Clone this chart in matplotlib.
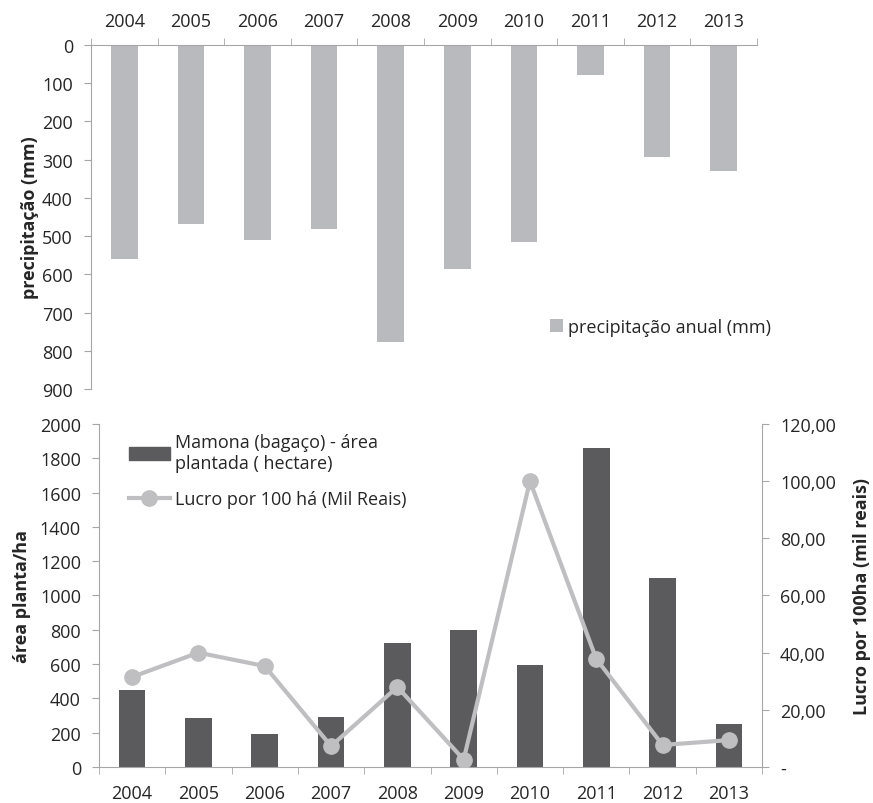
import matplotlib
matplotlib.use("Agg")
import matplotlib.pyplot as plt
from matplotlib.ticker import FuncFormatter, FixedLocator
from matplotlib.patches import Patch
from matplotlib.lines import Line2D
import numpy as np

years = ["2004", "2005", "2006", "2007", "2008", "2009", "2010", "2011", "2012", "2013"]
precip = [560, 469, 510, 482, 778, 586, 516, 79, 293, 330]
area = [450, 285, 192, 290, 725, 800, 595, 1860, 1100, 250]
lucro = [31.5, 40.0, 35.3, 7.3, 28.0, 2.6, 100.0, 37.8, 7.7, 9.4]

plt.rcParams['font.family'] = ['Open Sans', 'DejaVu Sans']
TXT = '#262626'
SPINE = '#a6a6a6'
LIGHT = '#b9babd'
DARK = '#5b5b5d'
LINEC = '#bfbfc1'
FS = 13

fig = plt.figure(figsize=(8.73, 8.04), dpi=100)

x = np.arange(len(years))

# Top axes
ax1 = fig.add_axes([0.1042, 0.5149, 0.7629, 0.4279])
ax1.bar(x, precip, width=0.4, color=LIGHT, label='precipitação anual (mm)')
ax1.set_ylim(900, 0)
ax1.set_xlim(-0.5, 9.5)
ax1.set_yticks(range(0, 901, 100))
ax1.xaxis.tick_top()
ax1.set_xticks(x)
ax1.set_xticklabels(years)
ax1.xaxis.set_minor_locator(FixedLocator(np.arange(-0.5, 10, 1)))
ax1.tick_params(axis='x', which='major', length=0, pad=11, labelsize=FS, colors=TXT)
ax1.tick_params(axis='x', which='minor', length=5, color=SPINE, direction='out', top=True, bottom=False)
ax1.tick_params(axis='y', length=5, color=SPINE, labelsize=FS, labelcolor=TXT, pad=8)
for s in ['right', 'bottom']:
    ax1.spines[s].set_visible(False)
for s in ['left', 'top']:
    ax1.spines[s].set_color(SPINE)
ax1.set_ylabel('precipitação (mm)', fontsize=FS, fontweight='bold', color=TXT, labelpad=2)
leg1 = ax1.legend(loc='upper left', bbox_to_anchor=(0.665, 0.255), frameon=False, fontsize=FS,
                  handlelength=0.7, handleheight=0.7, handletextpad=0.3, labelcolor=TXT)

# Bottom axes
ax2 = fig.add_axes([0.1134, 0.0448, 0.7595, 0.4266])
ax2.bar(x, area, width=0.4, color=DARK)
ax2.set_ylim(0, 2000)
ax2.set_xlim(-0.5, 9.5)
ax2.set_yticks(range(0, 2001, 200))
ax2.set_xticks(x)
ax2.set_xticklabels(years)
ax2.xaxis.set_minor_locator(FixedLocator(np.arange(-0.5, 10, 1)))
ax2.tick_params(axis='x', which='major', length=0, pad=12, labelsize=FS, colors=TXT)
ax2.tick_params(axis='x', which='minor', length=5, color=SPINE, direction='out')
ax2.tick_params(axis='y', length=5, color=SPINE, labelsize=FS, labelcolor=TXT, pad=8)
for s in ['right', 'top']:
    ax2.spines[s].set_visible(False)
for s in ['left', 'bottom']:
    ax2.spines[s].set_color(SPINE)
ax2.set_ylabel('área planta/ha', fontsize=FS, fontweight='bold', color=TXT, labelpad=6)

ax3 = ax2.twinx()
ax3.plot(x, lucro, color=LINEC, lw=3, marker='o', markersize=11, markerfacecolor=LINEC,
         markeredgecolor=LINEC, zorder=5)
ax3.set_ylim(0, 120)
ax3.set_yticks(range(0, 121, 20))
ax3.yaxis.set_major_formatter(FuncFormatter(lambda v, p: '-' if v == 0 else f'{v:.2f}'.replace('.', ',')))
ax3.tick_params(axis='y', length=5, color=SPINE, labelsize=FS, labelcolor=TXT, pad=8)
for s in ['left', 'top', 'bottom']:
    ax3.spines[s].set_visible(False)
ax3.spines['right'].set_color(SPINE)
ax3.set_ylabel('Lucro por 100ha (mil reais)', fontsize=FS, fontweight='bold', color=TXT, labelpad=12)

handles = [Patch(color=DARK), Line2D([], [], color=LINEC, lw=3, marker='o', markersize=11)]
labels = ['Mamona (bagaço) - área\nplantada ( hectare)', 'Lucro por 100 há (Mil Reais)']
ax3.legend(handles, labels, loc='upper left', bbox_to_anchor=(0.02, 1.02), frameon=False,
           fontsize=FS, handlelength=2.3, handletextpad=0.3, labelcolor=TXT, labelspacing=1.0)

fig.savefig('out.png', dpi=100)
